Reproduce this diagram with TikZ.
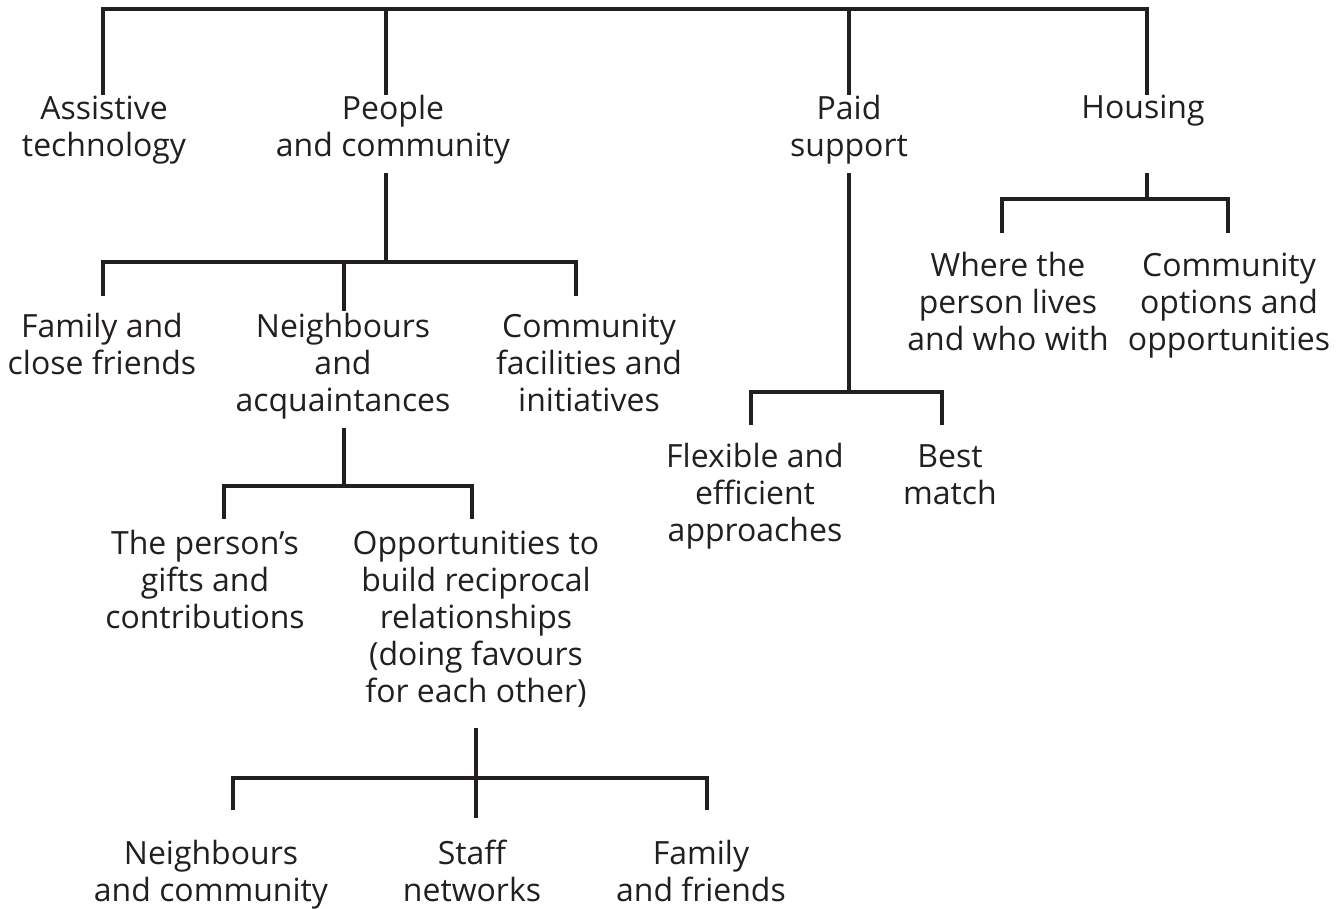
\documentclass[tikz,border=0pt]{standalone}
\usepackage{fontspec}
\setmainfont{Open Sans}
\definecolor{ink}{HTML}{231F20}
\tikzset{
  lbl/.style={align=center, anchor=base, inner sep=0pt, text=ink,
    font=\fontsize{18.2}{21}\selectfont},
  link/.style={draw=ink, line width=2pt, line join=miter}
}
\begin{document}
\begin{tikzpicture}[x=0.02cm, y=-0.02cm]
\useasboundingbox (0,0) rectangle (1343,909);

% top row (nodes sit on the baseline of their last line)
\node[lbl] (assist) at (104,156) {Assistive\\technology};
\node[lbl] (people) at (393,156) {People\\and community};
\node[lbl] (paid) at (849,156) {Paid\\support};
\node[lbl] (housing) at (1143,119) {Housing};

\coordinate (root) at (600,9);
\coordinate (tAssist) at (103,95);
\coordinate (tPeople) at (386,95);
\coordinate (tPaid) at (849,95);
\coordinate (tHousing) at (1147,95);

\draw[link] (tAssist) |- (root) -| (tHousing);
\draw[link] (tPeople) -- (tPeople |- root);
\draw[link] (tPaid) -- (tPaid |- root);

% people and community
\node[lbl] (family) at (102,374) {Family and\\close friends};
\node[lbl] (neigh) at (343,411) {Neighbours\\and\\acquaintances};
\node[lbl] (facil) at (589,411) {Community\\facilities and\\initiatives};

\coordinate (sPeople) at (386,173);
\coordinate (jPeople) at (386,262);
\coordinate (tFamily) at (103,296);
\coordinate (tNeigh) at (344,311);
\coordinate (tFacil) at (576,296);

\draw[link] (sPeople) -- (jPeople);
\draw[link] (tFamily) |- (jPeople) -| (tFacil);
\draw[link] (tNeigh) -- (tNeigh |- jPeople);

% neighbours and acquaintances
\node[lbl] (gifts) at (205,628) {The person's\\gifts and\\contributions};
\node[lbl] (oppo) at (476,702) {Opportunities to\\build reciprocal\\relationships\\(doing favours\\for each other)};

\coordinate (sNeigh) at (344,428);
\coordinate (jNeigh) at (344,486);
\coordinate (tGifts) at (224,519);
\coordinate (tOppo) at (472,519);

\draw[link] (sNeigh) -- (jNeigh);
\draw[link] (tGifts) |- (jNeigh) -| (tOppo);

% reciprocal relationships
\node[lbl] (nbcom) at (211,901) {Neighbours\\and community};
\node[lbl] (staff) at (472,901) {Staff\\networks};
\node[lbl] (famfr) at (701,901) {Family\\and friends};

\coordinate (sOppo) at (476,728);
\coordinate (jOppo) at (476,778);
\coordinate (tNbcom) at (233,810);
\coordinate (tStaff) at (476,818);
\coordinate (tFamfr) at (707,810);

\draw[link] (sOppo) -- (tStaff);
\draw[link] (tNbcom) |- (jOppo) -| (tFamfr);

% paid support
\node[lbl] (flex) at (755,541) {Flexible and\\efficient\\approaches};
\node[lbl] (best) at (950,504) {Best\\match};

\coordinate (sPaid) at (849,173);
\coordinate (jPaid) at (849,392);
\coordinate (tFlex) at (751,425);
\coordinate (tBest) at (942,425);

\draw[link] (sPaid) -- (jPaid);
\draw[link] (tFlex) |- (jPaid) -| (tBest);

% housing
\node[lbl] (where) at (1008,350) {Where the\\person lives\\and who with};
\node[lbl] (commopt) at (1229,350) {Community\\options and\\opportunities};

\coordinate (sHousing) at (1147,173);
\coordinate (jHousing) at (1147,199);
\coordinate (tWhere) at (1002,233);
\coordinate (tCommopt) at (1228,233);

\draw[link] (sHousing) -- (jHousing);
\draw[link] (tWhere) |- (jHousing) -| (tCommopt);
\end{tikzpicture}
\end{document}
